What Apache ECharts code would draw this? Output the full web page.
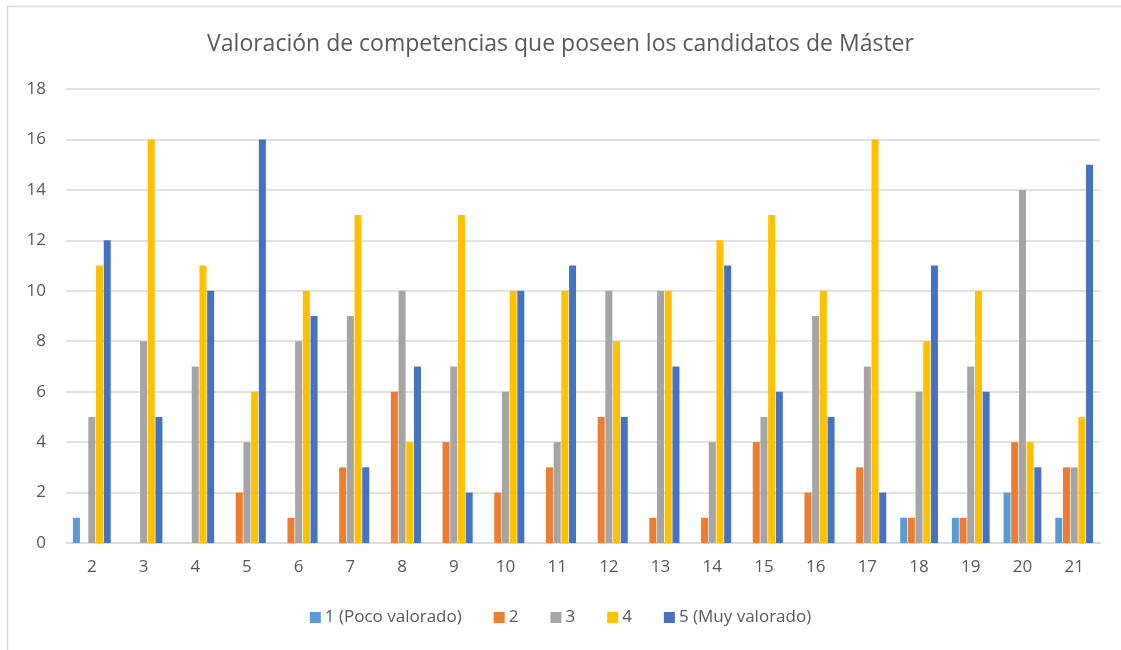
<!DOCTYPE html>
<html>
<head>
<meta charset="utf-8">
<script src="https://cdn.jsdelivr.net/npm/echarts@6/dist/echarts.min.js"></script>
<style>
  html, body { margin: 0; padding: 0; background: #fff; }
  #chart { width: 1121px; height: 650px; }
</style>
</head>
<body>
<div id="chart"></div>
<script>
// categorias (competencias 2..21)
var categories = ['2','3','4','5','6','7','8','9','10','11','12','13','14','15','16','17','18','19','20','21'];
var seriesNames = ['1 (Poco valorado)', '2', '3', '4', '5 (Muy valorado)'];

var val1 = [1,0,0,0,0,0,0,0,0,0,0,0,0,0,0,0,1,1,2,1];
var val2 = [0,0,0,2,1,3,6,4,2,3,5,1,1,4,2,3,1,1,4,3];
var val3 = [5,8,7,4,8,9,10,7,6,4,10,10,4,5,9,7,6,7,14,3];
var val4 = [11,16,11,6,10,13,4,13,10,10,8,10,12,13,10,16,8,10,4,5];
var val5 = [12,5,10,16,9,3,7,2,10,11,5,7,11,6,5,2,11,6,3,15];

var colors = ['#5B9BD5', '#ED7D31', '#A5A5A5', '#FFC000', '#4472C4'];
var txt = '#595959';
var fontFam = "'Open Sans', 'Noto Sans', sans-serif";

var chart = echarts.init(document.getElementById('chart'));

function bar(name, data, i) {
  return {
    name: name,
    type: 'bar',
    data: data,
    barWidth: 7,
    barGap: '10%',
    itemStyle: { color: colors[i] },
    animation: false
  };
}

var option = {
  backgroundColor: '#fff',
  animation: false,
  textStyle: { fontFamily: fontFam },
  title: {
    text: 'Valoración de competencias que poseen los candidatos de Máster',
    left: 'center',
    top: 28,
    textStyle: { color: txt, fontSize: 23, fontWeight: 'normal', fontFamily: fontFam }
  },
  graphic: [
    {
      type: 'rect',
      shape: { x: 7.5, y: 6.5, width: 1300, height: 800 },
      style: { fill: 'none', stroke: '#d9d9d9', lineWidth: 1.5 },
      silent: true
    }
  ],
  legend: {
    bottom: 19,
    left: 'center',
    itemWidth: 11,
    itemHeight: 11,
    itemGap: 32,
    icon: 'rect',
    textStyle: { color: txt, fontSize: 17, padding: [0, 0, 0, -1] },
    data: seriesNames
  },
  grid: { left: 66, right: 21, top: 89, bottom: 107 },
  xAxis: {
    type: 'category',
    data: categories,
    axisLine: { show: true, lineStyle: { color: '#d9d9d9', width: 1.5 } },
    axisTick: { show: false },
    axisLabel: { color: txt, fontSize: 17, margin: 16 }
  },
  yAxis: {
    type: 'value',
    min: 0,
    max: 18,
    interval: 2,
    axisLine: { show: false },
    axisTick: { show: false },
    splitLine: { lineStyle: { color: '#d9d9d9', width: 1.5 } },
    axisLabel: { color: txt, fontSize: 17, margin: 20 }
  },
  series: [
    bar(seriesNames[0], val1, 0),
    bar(seriesNames[1], val2, 1),
    bar(seriesNames[2], val3, 2),
    bar(seriesNames[3], val4, 3),
    bar(seriesNames[4], val5, 4)
  ]
};

chart.setOption(option);
</script>
</body>
</html>
